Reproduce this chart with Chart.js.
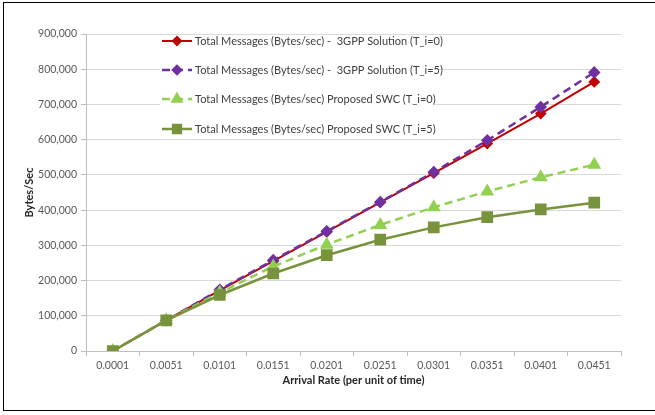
<!DOCTYPE html>
<html>
<head>
<meta charset="utf-8">
<script src="https://cdn.jsdelivr.net/npm/chart.js@4/dist/chart.umd.min.js"></script>
<style>
  html, body { margin: 0; padding: 0; background: #fff; }
  #wrap { position: relative; width: 655px; height: 415px; }
  #frame { position: absolute; left: 3px; top: 2px; width: 670px; height: 407px; border: 1px solid #000; pointer-events: none; }
</style>
</head>
<body>
<div id="wrap">
  <canvas id="c" width="655" height="415"></canvas>
  <div id="frame"></div>
</div>
<script>
const categories = ['0.0001', '0.0051', '0.0101', '0.0151', '0.0201', '0.0251', '0.0301', '0.0351', '0.0401', '0.0451'];
const gpp0 = [0, 87000, 172000, 255000, 338000, 422000, 505000, 589000, 674000, 764000];
const gpp5 = [0, 87000, 174000, 258000, 340000, 423000, 508000, 598000, 693000, 791000];
const swc0 = [0, 87000, 166000, 240000, 302000, 358000, 408000, 453000, 493000, 529000];
const swc5 = [0, 87000, 159000, 220000, 272000, 316000, 351000, 380000, 402000, 421000];
const seriesNames = [
  'Total Messages (Bytes/sec) -  3GPP Solution (T_i=0)',
  'Total Messages (Bytes/sec) -  3GPP Solution (T_i=5)',
  'Total Messages (Bytes/sec) Proposed SWC (T_i=0)',
  'Total Messages (Bytes/sec) Proposed SWC (T_i=5)'
];
const yMin = 0, yMax = 900000, yStep = 100000;

const FONT = 'Lato, "Liberation Sans", sans-serif';

const legendPlugin = {
  id: 'customLegend',
  afterDraw(chart) {
    const ctx = chart.ctx;
    ctx.save();
    ctx.fillStyle = '#fff';
    ctx.fillRect(160, 35, 274, 102);
    const ys = [41, 70, 99, 129];
    const legendRadius = [4, 4, 5, 5.5];
    chart.data.datasets.forEach((ds, i) => {
      const y = ys[i];
      ctx.strokeStyle = ds.borderColor;
      ctx.lineWidth = ds.borderWidth;
      ctx.setLineDash(ds.borderDash || []);
      ctx.beginPath();
      ctx.moveTo(162, y);
      ctx.lineTo(192, y);
      ctx.stroke();
      ctx.setLineDash([]);
      ctx.fillStyle = ds.pointBackgroundColor;
      ctx.strokeStyle = ds.pointBorderColor;
      Chart.helpers.drawPoint(ctx, {pointStyle: ds.pointStyle, radius: legendRadius[i], borderWidth: 1, rotation: 0}, 177, y);
      ctx.fillStyle = '#404040';
      ctx.font = '11px ' + FONT;
      ctx.textBaseline = 'middle';
      ctx.textAlign = 'left';
      ctx.fillText(seriesNames[i], 195, y);
    });
    ctx.restore();
  }
};

new Chart(document.getElementById('c'), {
  type: 'line',
  data: {
    labels: categories,
    datasets: [
      { label: seriesNames[0], data: gpp0, borderColor: '#c00000', backgroundColor: '#c00000',
        pointBackgroundColor: '#c00000', pointBorderColor: '#c00000', borderWidth: 2,
        pointStyle: 'rectRot', pointRadius: 4.5, order: 4 },
      { label: seriesNames[1], data: gpp5, borderColor: '#7030a0', backgroundColor: '#7030a0',
        pointBackgroundColor: '#7030a0', pointBorderColor: '#7030a0', borderWidth: 2.5, borderDash: [8, 5],
        pointStyle: 'rectRot', pointRadius: 4.5, order: 3 },
      { label: seriesNames[2], data: swc0, borderColor: '#92d050', backgroundColor: '#92d050',
        pointBackgroundColor: '#92d050', pointBorderColor: '#92d050', borderWidth: 2.5, borderDash: [8, 5],
        pointStyle: 'triangle', pointRadius: 5.5, order: 2 },
      { label: seriesNames[3], data: swc5, borderColor: '#77933c', backgroundColor: '#77933c',
        pointBackgroundColor: '#77933c', pointBorderColor: '#77933c', borderWidth: 2.5,
        pointStyle: 'rect', pointRadius: 6.5, order: 1 }
    ]
  },
  options: {
    responsive: false,
    animation: false,
    devicePixelRatio: 1,
    layout: { padding: { left: 0, top: 34, right: 34, bottom: 0 } },
    plugins: {
      legend: { display: false },
      tooltip: { enabled: false },
      title: { display: false }
    },
    elements: { line: { tension: 0 } },
    scales: {
      x: {
        type: 'category',
        offset: true,
        grid: { display: true, drawOnChartArea: false, drawTicks: true, tickLength: 5, tickColor: '#bfbfbf', offset: true },
        border: { display: true, color: '#bfbfbf', width: 1 },
        ticks: { color: '#595959', font: { family: FONT, size: 10.5 }, padding: 3, maxRotation: 0, autoSkip: false },
        title: { display: true, text: 'Arrival Rate (per unit of time)', color: '#262626',
                 font: { family: FONT, size: 11, weight: 'bold' }, padding: { top: 0, bottom: 28 } },
        afterFit(s) { s.height = 64; }
      },
      y: {
        min: yMin, max: yMax,
        grid: { color: '#d9d9d9', lineWidth: 1, drawTicks: true, tickLength: 5, tickColor: '#bfbfbf' },
        border: { display: true, color: '#bfbfbf', width: 1 },
        ticks: { stepSize: yStep, color: '#595959', font: { family: FONT, size: 10.5 }, padding: 4,
                 callback: v => v.toLocaleString('en-US') },
        title: { display: true, text: 'Bytes/Sec', color: '#262626',
                 font: { family: FONT, size: 11, weight: 'bold' }, padding: { top: 23, bottom: 0 } },
        afterFit(s) { s.width = 86; }
      }
    }
  },
  plugins: [legendPlugin]
});
</script>
</body>
</html>
